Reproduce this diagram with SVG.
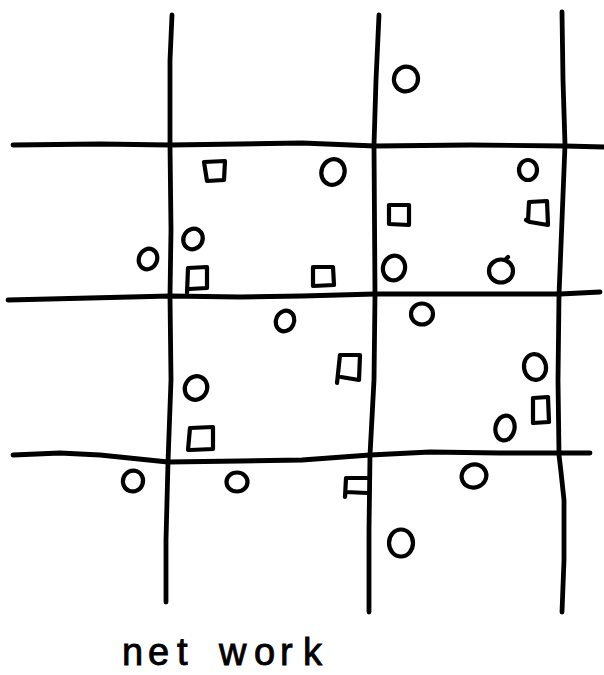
<svg xmlns="http://www.w3.org/2000/svg" width="604" height="675" viewBox="0 0 604 675">
<style>
.ln{fill:none;stroke:#000;stroke-width:4.8;stroke-linecap:round;stroke-linejoin:round}
.sh{fill:none;stroke:#000;stroke-width:4.2;stroke-linecap:round;stroke-linejoin:round}
.lbl{font-family:"Liberation Sans","DejaVu Sans",sans-serif;font-size:38px;fill:#000;stroke:#000;stroke-width:0.9}
</style>
<rect width="604" height="675" fill="#fff"/>
<g id="grid">
<path class="ln" d="M172,15 L170,60 L170,145 L171,230 L170,296 L171,380 L168,462 L166,540 L166,602"/>
<path class="ln" d="M379,15 L376,80 L374,145 L375,295 L374,380 L370,455 L369,530 L369,612"/>
<path class="ln" d="M562,12 L563,80 L565,145 L562,220 L559,295 L558,380 L559,455 L561,472 L564,500 L564,560 L562,612"/>
<path class="ln" d="M13,145 L100,144 L170,145 L240,144 L302,143 L375,146 L470,145 L565,146 L604,147"/>
<path class="ln" d="M8,300 L90,298 L170,296 L240,297 L302,296 L375,294 L470,294 L560,294 L600,292"/>
<path class="ln" d="M13,455 L60,453 L100,455 L168,462 L240,461 L302,460 L370,455 L430,452 L500,453 L559,453 L590,453"/>
</g>
<g id="circles">
<ellipse class="sh" cx="406" cy="79" rx="12" ry="12.5" transform="rotate(20 406 79)"/>
<ellipse class="sh" cx="333" cy="172" rx="11.5" ry="13" transform="rotate(20 333 172)"/>
<ellipse class="sh" cx="528" cy="170" rx="9" ry="10"/>
<ellipse class="sh" cx="193" cy="239" rx="9.5" ry="10.5" transform="rotate(30 193 239)"/>
<ellipse class="sh" cx="148" cy="259" rx="9" ry="10.5" transform="rotate(25 148 259)"/>
<ellipse class="sh" cx="394" cy="268" rx="11" ry="12.5" transform="rotate(15 394 268)"/>
<ellipse class="sh" cx="501" cy="271" rx="12" ry="11.5"/>
<path class="sh" d="M505,260 L508,257"/>
<ellipse class="sh" cx="285" cy="321" rx="9" ry="10.5" transform="rotate(25 285 321)"/>
<ellipse class="sh" cx="422" cy="314" rx="11" ry="10.5"/>
<ellipse class="sh" cx="196" cy="388" rx="11" ry="12" transform="rotate(30 196 388)"/>
<ellipse class="sh" cx="535" cy="367" rx="11" ry="13" transform="rotate(-10 535 367)"/>
<ellipse class="sh" cx="505" cy="428" rx="9.5" ry="12.5" transform="rotate(12 505 428)"/>
<ellipse class="sh" cx="133" cy="481" rx="10" ry="10.5" transform="rotate(20 133 481)"/>
<ellipse class="sh" cx="237" cy="482" rx="10.5" ry="9.5"/>
<ellipse class="sh" cx="474" cy="476" rx="12.5" ry="11.5" transform="rotate(-20 474 476)"/>
<ellipse class="sh" cx="401" cy="543" rx="12" ry="13.5"/>
</g>
<g id="squares">
<path class="sh" d="M204,162 L225,161 L224,180 L207,181 Z"/>
<path class="sh" d="M188,268 L207,267 L207,288 L189,289 M188,268 L187,293"/>
<path class="sh" d="M389,205 L409,205 L409,225 L389,224 Z"/>
<path class="sh" d="M529,202 L547,201 L548,225 L530,222 L526,220 M529,202 L528,221"/>
<path class="sh" d="M313,267 L333,267 L334,285 L313,286 Z"/>
<path class="sh" d="M340,355 L360,355 L359,380 L341,377 M340,355 L337,383"/>
<path class="sh" d="M533,398 L548,397 L549,422 L533,423 Z"/>
<path class="sh" d="M367,478 L346,478 L345,497 M346,492 L367,493"/>
<path class="sh" d="M190,428 L213,427 L213,449 L190,450 M190,428 L188,450"/>
</g>
<text class="lbl" x="122 148 177 219 254 280 303" y="665">network</text>
</svg>
